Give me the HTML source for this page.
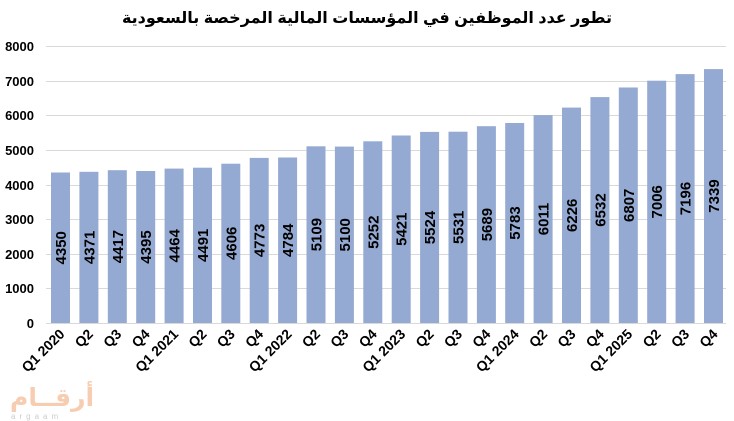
<!DOCTYPE html>
<html><head><meta charset="utf-8"><style>body{margin:0;background:#fff}svg{display:block}</style></head>
<body>
<svg width="734" height="421" xmlns="http://www.w3.org/2000/svg" font-family="Liberation Sans, sans-serif">
<text x="367" y="23" text-anchor="middle" font-size="16" font-weight="bold" font-family="Liberation Sans, DejaVu Sans, sans-serif" direction="rtl">تطور عدد الموظفين في المؤسسات المالية المرخصة بالسعودية</text>
<g stroke="#d9d9d9" stroke-width="1">
<line x1="46" x2="726" y1="46.5" y2="46.5"/><line x1="46" x2="726" y1="81.5" y2="81.5"/><line x1="46" x2="726" y1="115.5" y2="115.5"/><line x1="46" x2="726" y1="150.5" y2="150.5"/><line x1="46" x2="726" y1="185.5" y2="185.5"/><line x1="46" x2="726" y1="219.5" y2="219.5"/><line x1="46" x2="726" y1="254.5" y2="254.5"/><line x1="46" x2="726" y1="288.5" y2="288.5"/><line x1="46" x2="726" y1="323.5" y2="323.5"/>
</g>
<g font-size="13" font-weight="bold" text-anchor="end" fill="#000">
<text x="34" y="51">8000</text><text x="34" y="86">7000</text><text x="34" y="120">6000</text><text x="34" y="155">5000</text><text x="34" y="190">4000</text><text x="34" y="224">3000</text><text x="34" y="259">2000</text><text x="34" y="293">1000</text><text x="34" y="328">0</text>
</g>
<g fill="#95aad2">
<rect x="51" y="172.5" width="19" height="150.5"/>
<rect x="79.4" y="171.8" width="19" height="151.2"/>
<rect x="107.8" y="170.2" width="19" height="152.8"/>
<rect x="136.2" y="171" width="19" height="152"/>
<rect x="164.6" y="168.6" width="19" height="154.4"/>
<rect x="193" y="167.7" width="19" height="155.3"/>
<rect x="221.3" y="163.7" width="19" height="159.3"/>
<rect x="249.7" y="157.9" width="19" height="165.1"/>
<rect x="278.1" y="157.5" width="19" height="165.5"/>
<rect x="306.5" y="146.3" width="19" height="176.7"/>
<rect x="334.9" y="146.6" width="19" height="176.4"/>
<rect x="363.3" y="141.3" width="19" height="181.7"/>
<rect x="391.7" y="135.5" width="19" height="187.5"/>
<rect x="420.1" y="131.9" width="19" height="191.1"/>
<rect x="448.5" y="131.7" width="19" height="191.3"/>
<rect x="476.9" y="126.2" width="19" height="196.8"/>
<rect x="505.2" y="123" width="19" height="200"/>
<rect x="533.6" y="115.1" width="19" height="207.9"/>
<rect x="562" y="107.6" width="19" height="215.4"/>
<rect x="590.4" y="97.1" width="19" height="225.9"/>
<rect x="618.8" y="87.5" width="19" height="235.5"/>
<rect x="647.2" y="80.7" width="19" height="242.3"/>
<rect x="675.6" y="74.1" width="19" height="248.9"/>
<rect x="704" y="69.1" width="19" height="253.9"/>
</g>
<g font-size="15" font-weight="bold" text-anchor="middle" fill="#000">
<text transform="translate(66,247.8) rotate(-90)">4350</text>
<text transform="translate(94.4,247.4) rotate(-90)">4371</text>
<text transform="translate(122.8,246.6) rotate(-90)">4417</text>
<text transform="translate(151.2,247) rotate(-90)">4395</text>
<text transform="translate(179.6,245.8) rotate(-90)">4464</text>
<text transform="translate(208,245.3) rotate(-90)">4491</text>
<text transform="translate(236.3,243.3) rotate(-90)">4606</text>
<text transform="translate(264.7,240.4) rotate(-90)">4773</text>
<text transform="translate(293.1,240.3) rotate(-90)">4784</text>
<text transform="translate(321.5,234.6) rotate(-90)">5109</text>
<text transform="translate(349.9,234.8) rotate(-90)">5100</text>
<text transform="translate(378.3,232.2) rotate(-90)">5252</text>
<text transform="translate(406.7,229.2) rotate(-90)">5421</text>
<text transform="translate(435.1,227.5) rotate(-90)">5524</text>
<text transform="translate(463.5,227.3) rotate(-90)">5531</text>
<text transform="translate(491.9,224.6) rotate(-90)">5689</text>
<text transform="translate(520.2,223) rotate(-90)">5783</text>
<text transform="translate(548.6,219) rotate(-90)">6011</text>
<text transform="translate(577,215.3) rotate(-90)">6226</text>
<text transform="translate(605.4,210) rotate(-90)">6532</text>
<text transform="translate(633.8,205.3) rotate(-90)">6807</text>
<text transform="translate(662.2,201.8) rotate(-90)">7006</text>
<text transform="translate(690.6,198.5) rotate(-90)">7196</text>
<text transform="translate(719,196) rotate(-90)">7339</text>
</g>
<g font-size="14" font-weight="bold" text-anchor="end" fill="#000">
<text transform="translate(65.5,335) rotate(-45)">Q1 2020</text>
<text transform="translate(93.9,335) rotate(-45)">Q2</text>
<text transform="translate(122.3,335) rotate(-45)">Q3</text>
<text transform="translate(150.7,335) rotate(-45)">Q4</text>
<text transform="translate(179.1,335) rotate(-45)">Q1 2021</text>
<text transform="translate(207.5,335) rotate(-45)">Q2</text>
<text transform="translate(235.8,335) rotate(-45)">Q3</text>
<text transform="translate(264.2,335) rotate(-45)">Q4</text>
<text transform="translate(292.6,335) rotate(-45)">Q1 2022</text>
<text transform="translate(321,335) rotate(-45)">Q2</text>
<text transform="translate(349.4,335) rotate(-45)">Q3</text>
<text transform="translate(377.8,335) rotate(-45)">Q4</text>
<text transform="translate(406.2,335) rotate(-45)">Q1 2023</text>
<text transform="translate(434.6,335) rotate(-45)">Q2</text>
<text transform="translate(463,335) rotate(-45)">Q3</text>
<text transform="translate(491.4,335) rotate(-45)">Q4</text>
<text transform="translate(519.7,335) rotate(-45)">Q1 2024</text>
<text transform="translate(548.1,335) rotate(-45)">Q2</text>
<text transform="translate(576.5,335) rotate(-45)">Q3</text>
<text transform="translate(604.9,335) rotate(-45)">Q4</text>
<text transform="translate(633.3,335) rotate(-45)">Q1 2025</text>
<text transform="translate(661.7,335) rotate(-45)">Q2</text>
<text transform="translate(690.1,335) rotate(-45)">Q3</text>
<text transform="translate(718.5,335) rotate(-45)">Q4</text>
</g>
<text x="10" y="406" font-size="25" font-weight="bold" fill="#f6cdb0" font-family="DejaVu Sans, sans-serif">أرقــام</text>
<text x="11" y="419" font-size="8" fill="#cccccc" letter-spacing="4">argaam</text>
</svg>
</body></html>
